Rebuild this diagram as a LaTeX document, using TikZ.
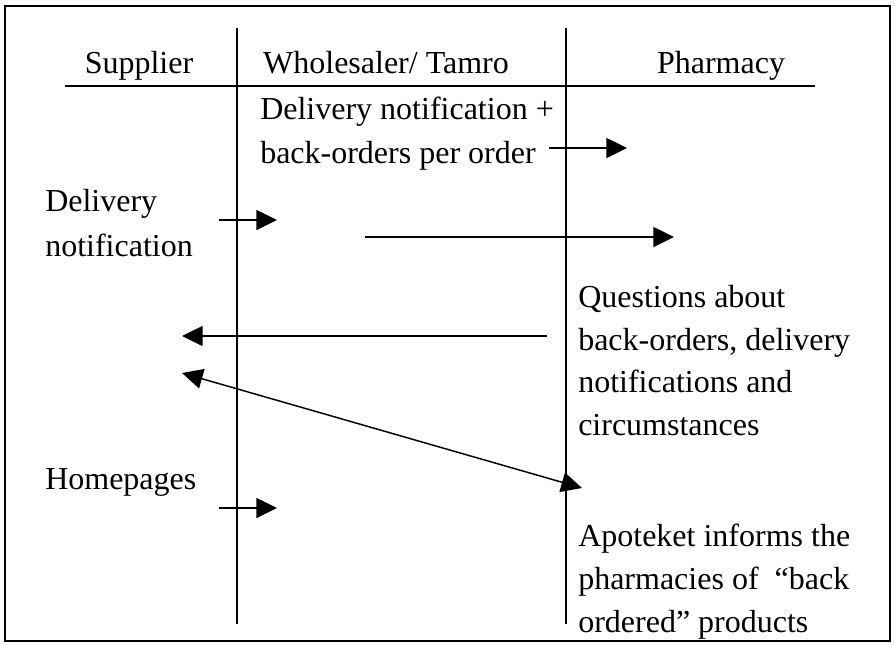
\documentclass[tikz,border=0pt]{standalone}
\usepackage{fontspec}
\setmainfont{Liberation Serif}
\usetikzlibrary{arrows.meta}
\begin{document}
\begin{tikzpicture}[x=0.75pt,y=-0.75pt,
  txt/.style={inner sep=0pt,anchor=base west,font=\fontsize{24}{32}\selectfont},
  head/.style={inner sep=0pt,anchor=base,font=\fontsize{24}{32}\selectfont},
  rule/.style={line width=1.1pt},
  tip/.tip={Triangle[length=15.5pt,width=15pt]},
  msg/.style={line width=1.1pt,-tip},
  both/.style={line width=1.1pt,tip-tip}]
\useasboundingbox (0,0) rectangle (895,644);
% outer frame
\draw[line width=1.7pt] (5,6) rectangle (890,641);
% swimlane rules
\coordinate (lt) at (237,28); \coordinate (lb) at (237,624);
\coordinate (rt) at (566,28); \coordinate (rb) at (566,624);
\coordinate (hl) at (65,86);  \coordinate (hr) at (815,86);
\draw[rule] (lt) -- (lb);
\draw[rule] (rt) -- (rb);
\draw[rule] (hl) -- (hr);
% column headings
\node[head] (sup) at (139,73) {Supplier};
\node[head] (who) at (386,73) {Wholesaler/ Tamro};
\node[head] (pha) at (721,73) {Pharmacy};
% labels
\node[txt] (dn1) at (260,119) {Delivery notification +};
\node[txt] (dn2) at (260,163) {back-orders per order};
\node[txt] (sd1) at (45,211) {Delivery};
\node[txt] (sd2) at (45,256) {notification};
\node[txt] (q1) at (578,307) {Questions about};
\node[txt] (q2) at (578,350) {back-orders, delivery};
\node[txt] (q3) at (578,392) {notifications and};
\node[txt] (q4) at (578,435) {circumstances};
\node[txt] (hp) at (45,489) {Homepages};
\node[txt] (ap1) at (578,546) {Apoteket informs the};
\node[txt] (ap2) at (578,589) {pharmacies of \ “back};
\node[txt] (ap3) at (578,632) {ordered” products};
% message arrows
\coordinate (a1s) at (549,148); \coordinate (a1e) at (627,148);
\coordinate (a2s) at (219,220); \coordinate (a2e) at (277,220);
\coordinate (a3s) at (365,237); \coordinate (a3e) at (674,237);
\coordinate (a4s) at (547,336); \coordinate (a4e) at (182,336);
\coordinate (a5s) at (182,373); \coordinate (a5e) at (582,488);
\coordinate (a6s) at (219,508); \coordinate (a6e) at (277,508);
\draw[msg] (a1s) -- (a1e);
\draw[msg] (a2s) -- (a2e);
\draw[msg] (a3s) -- (a3e);
\draw[msg] (a4s) -- (a4e);
\draw[both] (a5s) -- (a5e);
\draw[msg] (a6s) -- (a6e);
\end{tikzpicture}
\end{document}
